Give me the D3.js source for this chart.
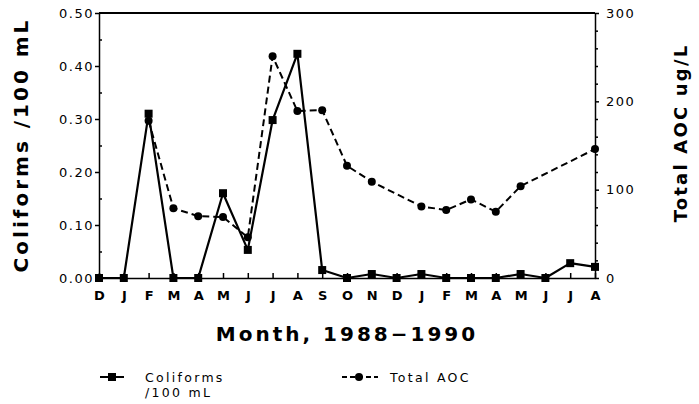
<!DOCTYPE html>
<html>
<head>
<meta charset="utf-8">
<script src="https://cdn.jsdelivr.net/npm/d3@7"></script>
<style>
  body { margin: 0; background: #fff; }
  svg { display: block; }
  .axis text { font-family: "DejaVu Sans", sans-serif; font-size: 13px; letter-spacing: 1.5px; fill: #000; }
  .axis path, .axis line { stroke: #000; stroke-width: 1.5; }
  .title { font-family: "DejaVu Sans", sans-serif; font-weight: bold; fill: #000; letter-spacing: 3px; }
  .legend text { font-family: "DejaVu Sans", sans-serif; font-size: 12.5px; letter-spacing: 2.3px; fill: #000; }
</style>
</head>
<body>
<svg width="699" height="404"></svg>
<script>
"use strict";

// months Dec 1988 .. Aug 1990
var months = ["D","J","F","M","A","M","J","J","A","S","O","N","D","J","F","M","A","M","J","J","A"];
var coliforms = [0, 0, 0.31, 0, 0, 0.16, 0.053, 0.298, 0.423, 0.015, 0, 0.0075, 0, 0.0075, 0, 0, 0, 0.0075, 0, 0.028, 0.021];
var aoc = [null, null, 178, 79, 70, 69, 46, 251, 189, 190, 127, 109, null, 81, 77, 89, 75, 104, null, null, 146];
var leftTicks = [0, 0.1, 0.2, 0.3, 0.4, 0.5];
var rightTicks = [0, 100, 200, 300];

var svg = d3.select("svg"),
  margin = {top: 13, left: 99, right: 104, bottom: 126},
  width = 699 - margin.left - margin.right,
  height = 404 - margin.top - margin.bottom,
  g = svg.append("g").attr("transform", "translate(" + margin.left + "," + margin.top + ")");

var idx = d3.range(months.length);
var x = d3.scalePoint().domain(idx).range([0, width]);
var yL = d3.scaleLinear().domain([0, 0.5]).range([height, 0]);
var yR = d3.scaleLinear().domain([0, 300]).range([height, 0]);

// top border
g.append("line")
  .attr("x1", 0).attr("x2", width).attr("y1", 0).attr("y2", 0)
  .attr("stroke", "#000").attr("stroke-width", 2);

// minor ticks
g.append("g").attr("class", "axis")
  .call(d3.axisRight(yL).tickValues(d3.range(0.05, 0.5, 0.1)).tickSize(3).tickFormat(""))
  .select(".domain").remove();
g.append("g").attr("class", "axis")
  .attr("transform", "translate(" + width + ",0)")
  .call(d3.axisRight(yR).tickValues(d3.range(20, 300, 20).filter(function(v){ return v % 100 !== 0; })).tickSize(3).tickFormat(""))
  .select(".domain").remove();

g.append("g").attr("class", "axis")
  .call(d3.axisLeft(yL).tickValues(leftTicks).tickSize(4).tickSizeOuter(0).tickPadding(1).tickFormat(d3.format(".2f")));

g.append("g").attr("class", "axis")
  .attr("transform", "translate(" + width + ",0)")
  .call(d3.axisRight(yR).tickValues(rightTicks).tickSize(4).tickSizeOuter(0).tickPadding(7).tickFormat(d3.format("d")));

let xAxis = g.append("g").attr("class", "axis")
  .attr("transform", "translate(0," + height + ")")
  .call(d3.axisBottom(x).tickSize(-5).tickSizeOuter(0).tickPadding(13).tickFormat(function(i){ return months[i]; }));
xAxis.selectAll("text").style("font-size", "13px").style("font-weight", "bold").style("letter-spacing", "0px");
xAxis.select(".domain").attr("stroke-width", 2.5);

// coliforms: solid line with squares
let colLine = d3.line()
  .x(function(d, i) { return x(i); })
  .y(function(d) { return yL(d); });

g.append("path")
  .datum(coliforms)
  .attr("fill", "none")
  .attr("stroke", "#000")
  .attr("stroke-width", 2.2)
  .attr("stroke-linejoin", "round")
  .attr("d", colLine);

g.selectAll("rect.col")
  .data(coliforms)
  .enter()
  .append("rect")
  .attr("class", "col")
  .attr("x", function(d, i) { return x(i) - 4; })
  .attr("y", function(d) { return yL(d) - 4; })
  .attr("width", 8)
  .attr("height", 8)
  .attr("fill", "#000");

// AOC: dashed line with dots
let aocPts = aoc.map(function(v, i) { return {i: i, v: v}; }).filter(function(d) { return d.v !== null; });
let aocLine = d3.line()
  .x(function(d) { return x(d.i); })
  .y(function(d) { return yR(d.v); });

g.append("path")
  .datum(aocPts)
  .attr("fill", "none")
  .attr("stroke", "#000")
  .attr("stroke-width", 2)
  .attr("stroke-dasharray", "7,4")
  .attr("d", aocLine);

g.selectAll("circle.aoc")
  .data(aocPts)
  .enter()
  .append("circle")
  .attr("class", "aoc")
  .attr("cx", function(d) { return x(d.i); })
  .attr("cy", function(d) { return yR(d.v); })
  .attr("r", 4)
  .attr("fill", "#000");

// titles
svg.append("text").attr("class", "title")
  .attr("x", 347).attr("y", 341)
  .attr("text-anchor", "middle")
  .style("font-size", "20px")
  .text("Month,  1988\u22121990");

svg.append("text").attr("class", "title")
  .attr("transform", "translate(28,145) rotate(-90)")
  .attr("text-anchor", "middle")
  .style("font-size", "20px")
  .text("Coliforms  /100  mL");

svg.append("text").attr("class", "title")
  .attr("transform", "translate(687,133) rotate(-90)")
  .attr("text-anchor", "middle")
  .style("font-size", "18px")
  .style("letter-spacing", "2.2px")
  .text("Total  AOC  ug/L");

// legend
let leg = svg.append("g").attr("class", "legend");
leg.append("line").attr("x1", 100).attr("x2", 124).attr("y1", 377).attr("y2", 377)
  .attr("stroke", "#000").attr("stroke-width", 2);
leg.append("rect").attr("x", 108).attr("y", 373).attr("width", 8).attr("height", 8).attr("fill", "#000");
leg.append("text").attr("x", 145).attr("y", 382).text("Coliforms");
leg.append("text").attr("x", 145).attr("y", 397).text("/100  mL");

leg.append("line").attr("x1", 342).attr("x2", 378).attr("y1", 377).attr("y2", 377)
  .attr("stroke", "#000").attr("stroke-width", 2).attr("stroke-dasharray", "5,3");
leg.append("circle").attr("cx", 359).attr("cy", 377).attr("r", 4).attr("fill", "#000");
leg.append("text").attr("x", 390).attr("y", 382).text("Total  AOC");
</script>
</body>
</html>
